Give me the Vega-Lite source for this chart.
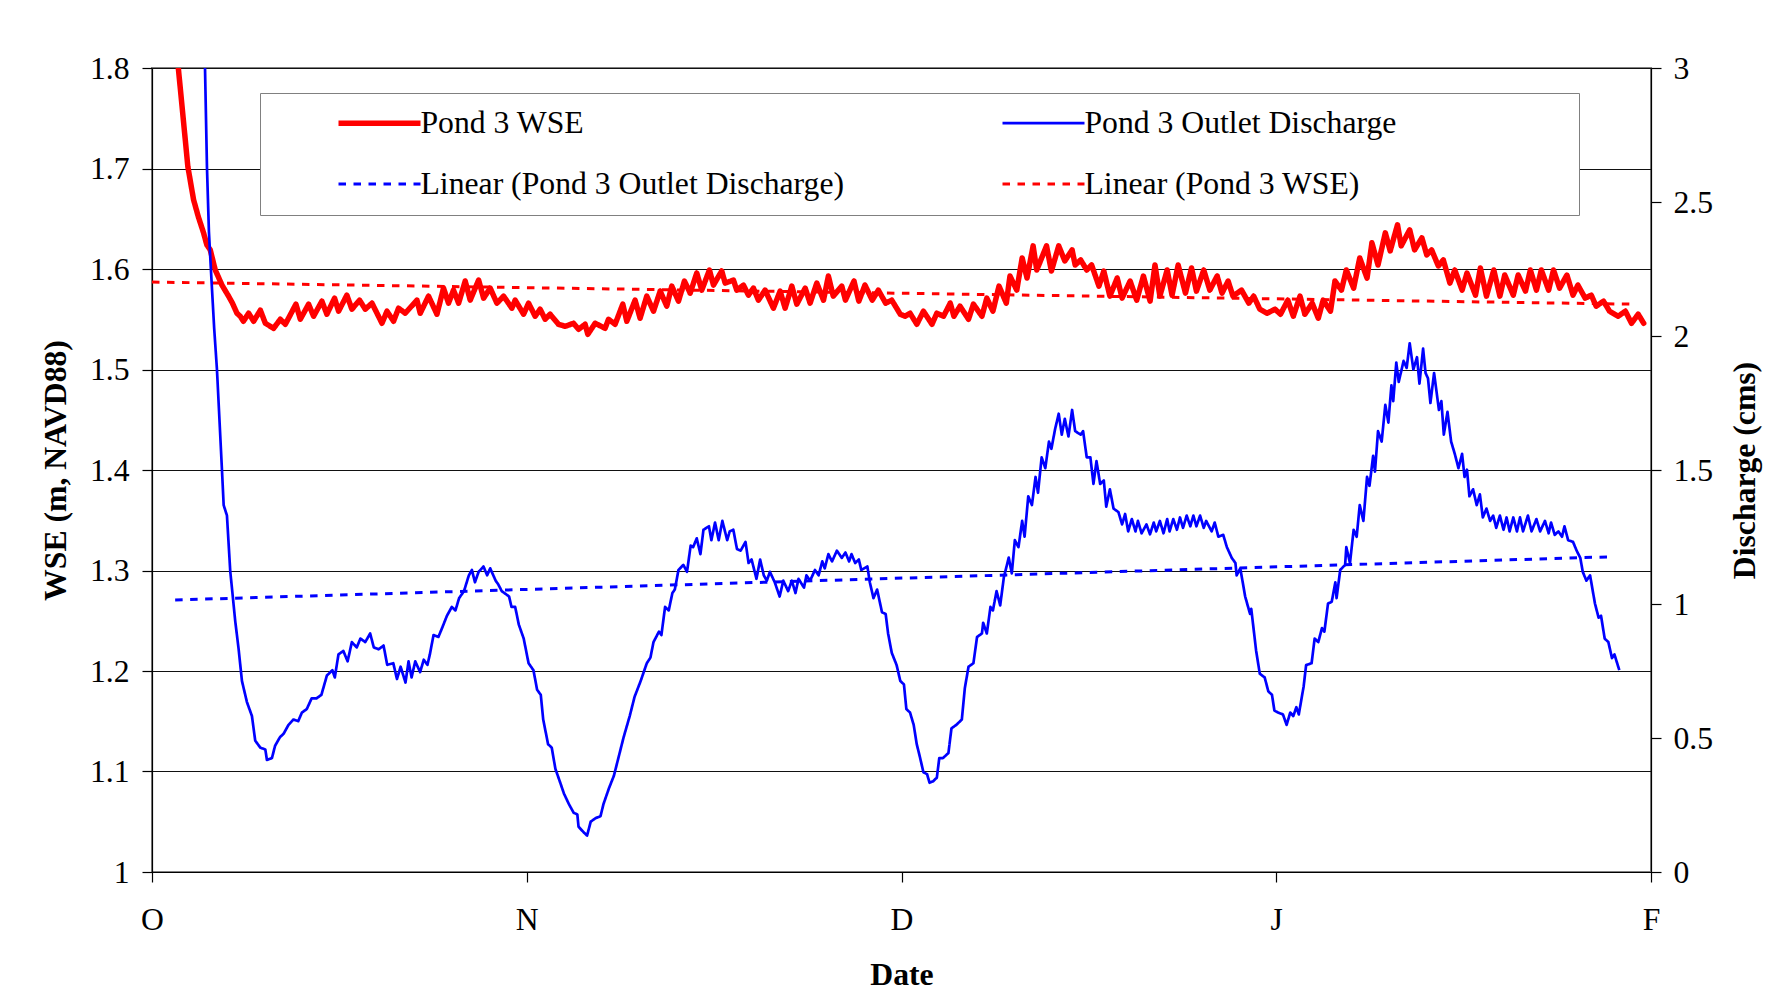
{
"$schema": "https://vega.github.io/schema/vega-lite/v6.json",
"width": 1499, "height": 804,
"autosize": {"type": "none"},
"padding": {"left": 152, "top": 68, "right": 137, "bottom": 136},
"background": "white",
"datasets": {
"wse": [
{"day":1.5,"wse":1.89},{"day":2.16,"wse":1.8},{"day":2.6,"wse":1.745},{"day":2.94,"wse":1.702},{"day":3.41,"wse":1.669},{"day":3.8,"wse":1.652},{"day":4.23,"wse":1.636},{"day":4.5,"wse":1.624},{"day":4.78,"wse":1.619},{"day":5.19,"wse":1.599},{"day":5.45,"wse":1.592},{"day":5.74,"wse":1.584},{"day":6.28,"wse":1.573},{"day":6.6,"wse":1.566},{"day":6.97,"wse":1.556},{"day":7.24,"wse":1.553},{"day":7.5,"wse":1.548},{"day":7.93,"wse":1.556},{"day":8.34,"wse":1.548},{"day":8.89,"wse":1.559},{"day":9.3,"wse":1.546},{"day":9.98,"wse":1.541},{"day":10.53,"wse":1.55},{"day":10.94,"wse":1.545},{"day":11.81,"wse":1.565},{"day":12.17,"wse":1.55},{"day":12.85,"wse":1.565},{"day":13.26,"wse":1.553},{"day":13.94,"wse":1.568},{"day":14.35,"wse":1.555},{"day":14.98,"wse":1.571},{"day":15.31,"wse":1.558},{"day":15.99,"wse":1.574},{"day":16.4,"wse":1.56},{"day":17.03,"wse":1.569},{"day":17.5,"wse":1.56},{"day":18.05,"wse":1.566},{"day":18.87,"wse":1.546},{"day":19.28,"wse":1.558},{"day":19.82,"wse":1.548},{"day":20.23,"wse":1.561},{"day":20.78,"wse":1.556},{"day":21.74,"wse":1.569},{"day":22.01,"wse":1.556},{"day":22.69,"wse":1.573},{"day":23.38,"wse":1.555},{"day":23.92,"wse":1.581},{"day":24.33,"wse":1.566},{"day":24.74,"wse":1.579},{"day":25.16,"wse":1.566},{"day":25.7,"wse":1.588},{"day":26.11,"wse":1.569},{"day":26.8,"wse":1.589},{"day":27.21,"wse":1.571},{"day":27.75,"wse":1.581},{"day":28.3,"wse":1.566},{"day":28.85,"wse":1.573},{"day":29.53,"wse":1.561},{"day":29.8,"wse":1.569},{"day":30.49,"wse":1.555},{"day":30.9,"wse":1.566},{"day":31.44,"wse":1.553},{"day":31.85,"wse":1.56},{"day":32.26,"wse":1.55},{"day":32.67,"wse":1.555},{"day":33.35,"wse":1.545},{"day":33.9,"wse":1.543},{"day":34.59,"wse":1.546},{"day":35.0,"wse":1.54},{"day":35.54,"wse":1.545},{"day":35.76,"wse":1.535},{"day":36.36,"wse":1.546},{"day":37.18,"wse":1.541},{"day":37.46,"wse":1.55},{"day":38.0,"wse":1.545},{"day":38.63,"wse":1.565},{"day":38.96,"wse":1.548},{"day":39.64,"wse":1.569},{"day":40.05,"wse":1.551},{"day":40.6,"wse":1.573},{"day":41.15,"wse":1.558},{"day":41.7,"wse":1.578},{"day":42.24,"wse":1.563},{"day":42.65,"wse":1.583},{"day":43.2,"wse":1.568},{"day":43.69,"wse":1.588},{"day":44.16,"wse":1.576},{"day":44.7,"wse":1.596},{"day":45.11,"wse":1.579},{"day":45.74,"wse":1.599},{"day":46.07,"wse":1.584},{"day":46.75,"wse":1.598},{"day":47.03,"wse":1.586},{"day":47.71,"wse":1.589},{"day":47.98,"wse":1.579},{"day":48.53,"wse":1.584},{"day":48.94,"wse":1.574},{"day":49.35,"wse":1.581},{"day":49.76,"wse":1.569},{"day":50.31,"wse":1.579},{"day":50.99,"wse":1.561},{"day":51.54,"wse":1.578},{"day":51.95,"wse":1.561},{"day":52.5,"wse":1.583},{"day":52.91,"wse":1.565},{"day":53.6,"wse":1.581},{"day":54.0,"wse":1.566},{"day":54.55,"wse":1.586},{"day":55.1,"wse":1.569},{"day":55.5,"wse":1.593},{"day":55.9,"wse":1.573},{"day":56.6,"wse":1.583},{"day":56.9,"wse":1.569},{"day":57.6,"wse":1.588},{"day":58.0,"wse":1.568},{"day":58.5,"wse":1.584},{"day":59.1,"wse":1.569},{"day":59.6,"wse":1.579},{"day":60.2,"wse":1.566},{"day":60.7,"wse":1.569},{"day":61.4,"wse":1.555},{"day":61.8,"wse":1.553},{"day":62.2,"wse":1.556},{"day":62.76,"wse":1.545},{"day":63.3,"wse":1.558},{"day":64.0,"wse":1.545},{"day":64.4,"wse":1.556},{"day":64.95,"wse":1.553},{"day":65.5,"wse":1.566},{"day":65.8,"wse":1.553},{"day":66.3,"wse":1.563},{"day":67.0,"wse":1.55},{"day":67.4,"wse":1.565},{"day":68.1,"wse":1.553},{"day":68.5,"wse":1.571},{"day":69.0,"wse":1.558},{"day":69.5,"wse":1.583},{"day":70.1,"wse":1.566},{"day":70.4,"wse":1.593},{"day":70.96,"wse":1.579},{"day":71.4,"wse":1.611},{"day":71.8,"wse":1.591},{"day":72.3,"wse":1.623},{"day":72.6,"wse":1.599},{"day":73.4,"wse":1.623},{"day":73.8,"wse":1.598},{"day":74.4,"wse":1.623},{"day":74.9,"wse":1.608},{"day":75.5,"wse":1.619},{"day":75.75,"wse":1.604},{"day":76.2,"wse":1.609},{"day":76.7,"wse":1.599},{"day":77.1,"wse":1.604},{"day":77.7,"wse":1.583},{"day":78.1,"wse":1.598},{"day":78.6,"wse":1.573},{"day":79.2,"wse":1.591},{"day":79.6,"wse":1.571},{"day":80.26,"wse":1.588},{"day":80.8,"wse":1.569},{"day":81.35,"wse":1.593},{"day":81.9,"wse":1.568},{"day":82.3,"wse":1.604},{"day":82.7,"wse":1.573},{"day":83.3,"wse":1.599},{"day":83.7,"wse":1.574},{"day":84.2,"wse":1.604},{"day":84.8,"wse":1.576},{"day":85.3,"wse":1.601},{"day":85.7,"wse":1.578},{"day":86.3,"wse":1.599},{"day":86.8,"wse":1.579},{"day":87.4,"wse":1.593},{"day":87.8,"wse":1.576},{"day":88.3,"wse":1.588},{"day":88.7,"wse":1.573},{"day":89.4,"wse":1.579},{"day":90.0,"wse":1.566},{"day":90.4,"wse":1.573},{"day":90.9,"wse":1.56},{"day":91.5,"wse":1.556},{"day":92.15,"wse":1.56},{"day":92.6,"wse":1.555},{"day":93.2,"wse":1.569},{"day":93.65,"wse":1.553},{"day":94.2,"wse":1.573},{"day":94.6,"wse":1.555},{"day":95.2,"wse":1.566},{"day":95.7,"wse":1.551},{"day":96.1,"wse":1.569},{"day":96.7,"wse":1.558},{"day":97.07,"wse":1.588},{"day":97.6,"wse":1.579},{"day":98.0,"wse":1.599},{"day":98.6,"wse":1.581},{"day":99.1,"wse":1.611},{"day":99.7,"wse":1.591},{"day":100.1,"wse":1.626},{"day":100.6,"wse":1.604},{"day":101.2,"wse":1.636},{"day":101.6,"wse":1.618},{"day":102.2,"wse":1.644},{"day":102.5,"wse":1.623},{"day":103.2,"wse":1.639},{"day":103.6,"wse":1.619},{"day":104.2,"wse":1.631},{"day":104.6,"wse":1.614},{"day":105.0,"wse":1.619},{"day":105.55,"wse":1.603},{"day":105.96,"wse":1.609},{"day":106.5,"wse":1.586},{"day":106.9,"wse":1.599},{"day":107.5,"wse":1.579},{"day":107.9,"wse":1.596},{"day":108.6,"wse":1.574},{"day":109.0,"wse":1.601},{"day":109.5,"wse":1.573},{"day":110.1,"wse":1.599},{"day":110.6,"wse":1.573},{"day":111.0,"wse":1.594},{"day":111.7,"wse":1.574},{"day":112.1,"wse":1.594},{"day":112.7,"wse":1.578},{"day":113.1,"wse":1.599},{"day":113.6,"wse":1.579},{"day":114.0,"wse":1.599},{"day":114.6,"wse":1.579},{"day":115.0,"wse":1.599},{"day":115.5,"wse":1.581},{"day":116.1,"wse":1.594},{"day":116.6,"wse":1.574},{"day":117.0,"wse":1.584},{"day":117.6,"wse":1.571},{"day":118.1,"wse":1.574},{"day":118.5,"wse":1.563},{"day":119.1,"wse":1.568},{"day":119.6,"wse":1.558},{"day":120.3,"wse":1.553},{"day":120.9,"wse":1.558},{"day":121.4,"wse":1.546},{"day":121.95,"wse":1.555},{"day":122.4,"wse":1.546}
],
"wseTrend": [{"day":0,"wseTrend":1.587},{"day":121.5,"wseTrend":1.565}],
"q": [
{"day":4.0,"q":3.35},{"day":4.35,"q":3.0},{"day":4.51,"q":2.63},{"day":4.67,"q":2.39},{"day":4.82,"q":2.26},{"day":5.1,"q":2.03},{"day":5.33,"q":1.875},{"day":5.74,"q":1.501},{"day":5.88,"q":1.369},{"day":6.15,"q":1.33},{"day":6.42,"q":1.123},{"day":6.83,"q":0.936},{"day":7.11,"q":0.831},{"day":7.38,"q":0.713},{"day":7.79,"q":0.634},{"day":8.2,"q":0.582},{"day":8.47,"q":0.49},{"day":8.89,"q":0.464},{"day":9.3,"q":0.457},{"day":9.43,"q":0.418},{"day":9.84,"q":0.425},{"day":10.1,"q":0.471},{"day":10.5,"q":0.503},{"day":10.8,"q":0.516},{"day":11.2,"q":0.549},{"day":11.6,"q":0.569},{"day":12.0,"q":0.563},{"day":12.3,"q":0.595},{"day":12.7,"q":0.608},{"day":13.1,"q":0.648},{"day":13.5,"q":0.648},{"day":13.9,"q":0.661},{"day":14.35,"q":0.733},{"day":14.8,"q":0.753},{"day":15.0,"q":0.726},{"day":15.3,"q":0.812},{"day":15.7,"q":0.825},{"day":16.05,"q":0.786},{"day":16.4,"q":0.858},{"day":16.8,"q":0.838},{"day":17.1,"q":0.871},{"day":17.5,"q":0.858},{"day":17.9,"q":0.89},{"day":18.2,"q":0.838},{"day":18.6,"q":0.831},{"day":19.0,"q":0.845},{"day":19.3,"q":0.773},{"day":19.8,"q":0.779},{"day":20.1,"q":0.72},{"day":20.4,"q":0.766},{"day":20.8,"q":0.707},{"day":21.05,"q":0.786},{"day":21.3,"q":0.726},{"day":21.6,"q":0.786},{"day":22.0,"q":0.746},{"day":22.3,"q":0.792},{"day":22.6,"q":0.773},{"day":22.8,"q":0.812},{"day":23.1,"q":0.884},{"day":23.5,"q":0.877},{"day":23.8,"q":0.91},{"day":24.2,"q":0.956},{"day":24.6,"q":0.989},{"day":24.9,"q":0.976},{"day":25.2,"q":1.022},{"day":25.6,"q":1.048},{"day":26.0,"q":1.107},{"day":26.25,"q":1.127},{"day":26.5,"q":1.081},{"day":26.8,"q":1.12},{"day":27.2,"q":1.14},{"day":27.5,"q":1.107},{"day":27.75,"q":1.133},{"day":28.2,"q":1.087},{"day":28.4,"q":1.074},{"day":28.7,"q":1.048},{"day":29.3,"q":1.028},{"day":29.5,"q":0.989},{"day":29.8,"q":0.989},{"day":30.1,"q":0.923},{"day":30.5,"q":0.871},{"day":30.9,"q":0.779},{"day":31.3,"q":0.753},{"day":31.6,"q":0.68},{"day":31.9,"q":0.661},{"day":32.1,"q":0.569},{"day":32.5,"q":0.477},{"day":32.8,"q":0.464},{"day":33.1,"q":0.385},{"day":33.5,"q":0.333},{"day":33.8,"q":0.293},{"day":34.2,"q":0.254},{"day":34.6,"q":0.221},{"day":34.9,"q":0.215},{"day":35.0,"q":0.169},{"day":35.4,"q":0.149},{"day":35.7,"q":0.136},{"day":36.0,"q":0.188},{"day":36.4,"q":0.201},{"day":36.8,"q":0.208},{"day":37.05,"q":0.254},{"day":37.5,"q":0.313},{"day":37.9,"q":0.359},{"day":38.3,"q":0.431},{"day":38.7,"q":0.503},{"day":39.2,"q":0.582},{"day":39.6,"q":0.654},{"day":40.1,"q":0.713},{"day":40.6,"q":0.779},{"day":40.9,"q":0.8},{"day":41.15,"q":0.858},{"day":41.6,"q":0.897},{"day":41.8,"q":0.884},{"day":42.1,"q":0.989},{"day":42.4,"q":0.976},{"day":42.7,"q":1.041},{"day":42.9,"q":1.054},{"day":43.2,"q":1.127},{"day":43.6,"q":1.146},{"day":43.9,"q":1.12},{"day":44.2,"q":1.218},{"day":44.4,"q":1.212},{"day":44.7,"q":1.245},{"day":45.0,"q":1.186},{"day":45.25,"q":1.277},{"day":45.7,"q":1.29},{"day":45.9,"q":1.238},{"day":46.2,"q":1.304},{"day":46.5,"q":1.238},{"day":46.8,"q":1.31},{"day":47.2,"q":1.238},{"day":47.4,"q":1.271},{"day":47.7,"q":1.277},{"day":48.0,"q":1.205},{"day":48.3,"q":1.199},{"day":48.7,"q":1.232},{"day":48.95,"q":1.153},{"day":49.2,"q":1.166},{"day":49.6,"q":1.094},{"day":49.9,"q":1.166},{"day":50.2,"q":1.107},{"day":50.45,"q":1.087},{"day":50.7,"q":1.12},{"day":51.1,"q":1.081},{"day":51.5,"q":1.028},{"day":51.8,"q":1.087},{"day":52.2,"q":1.048},{"day":52.5,"q":1.087},{"day":52.8,"q":1.041},{"day":53.05,"q":1.094},{"day":53.5,"q":1.061},{"day":53.7,"q":1.107},{"day":54.0,"q":1.087},{"day":54.4,"q":1.127},{"day":54.7,"q":1.107},{"day":55.0,"q":1.159},{"day":55.2,"q":1.133},{"day":55.5,"q":1.186},{"day":55.8,"q":1.159},{"day":56.2,"q":1.199},{"day":56.6,"q":1.172},{"day":56.9,"q":1.192},{"day":57.2,"q":1.159},{"day":57.4,"q":1.186},{"day":57.7,"q":1.153},{"day":58.0,"q":1.166},{"day":58.2,"q":1.127},{"day":58.7,"q":1.14},{"day":58.9,"q":1.081},{"day":59.2,"q":1.022},{"day":59.5,"q":1.054},{"day":59.9,"q":0.969},{"day":60.2,"q":0.963},{"day":60.4,"q":0.89},{"day":60.7,"q":0.818},{"day":61.1,"q":0.772},{"day":61.4,"q":0.713},{"day":61.7,"q":0.7},{"day":61.9,"q":0.608},{"day":62.2,"q":0.595},{"day":62.5,"q":0.549},{"day":62.75,"q":0.477},{"day":63.0,"q":0.431},{"day":63.3,"q":0.372},{"day":63.6,"q":0.365},{"day":63.8,"q":0.333},{"day":64.1,"q":0.339},{"day":64.4,"q":0.352},{"day":64.6,"q":0.425},{"day":64.9,"q":0.425},{"day":65.35,"q":0.444},{"day":65.6,"q":0.536},{"day":66.0,"q":0.549},{"day":66.45,"q":0.569},{"day":66.7,"q":0.687},{"day":67.0,"q":0.766},{"day":67.4,"q":0.779},{"day":67.7,"q":0.877},{"day":68.1,"q":0.89},{"day":68.2,"q":0.93},{"day":68.5,"q":0.89},{"day":68.8,"q":0.989},{"day":69.0,"q":0.976},{"day":69.3,"q":1.048},{"day":69.6,"q":0.995},{"day":69.9,"q":1.1},{"day":70.3,"q":1.173},{"day":70.55,"q":1.114},{"day":70.8,"q":1.238},{"day":71.1,"q":1.212},{"day":71.4,"q":1.31},{"day":71.6,"q":1.251},{"day":71.9,"q":1.402},{"day":72.2,"q":1.369},{"day":72.5,"q":1.474},{"day":72.7,"q":1.415},{"day":73.0,"q":1.547},{"day":73.3,"q":1.507},{"day":73.6,"q":1.606},{"day":73.8,"q":1.579},{"day":74.1,"q":1.652},{"day":74.4,"q":1.71},{"day":74.65,"q":1.632},{"day":74.9,"q":1.691},{"day":75.2,"q":1.625},{"day":75.5,"q":1.724},{"day":75.75,"q":1.645},{"day":76.2,"q":1.632},{"day":76.4,"q":1.645},{"day":76.7,"q":1.547},{"day":77.0,"q":1.547},{"day":77.25,"q":1.448},{"day":77.5,"q":1.533},{"day":77.8,"q":1.448},{"day":78.1,"q":1.461},{"day":78.3,"q":1.363},{"day":78.6,"q":1.428},{"day":78.9,"q":1.356},{"day":79.3,"q":1.343},{"day":79.6,"q":1.297},{"day":79.85,"q":1.336},{"day":80.1,"q":1.271},{"day":80.4,"q":1.317},{"day":80.7,"q":1.271},{"day":80.9,"q":1.31},{"day":81.2,"q":1.264},{"day":81.6,"q":1.297},{"day":81.89,"q":1.26},{"day":82.2,"q":1.304},{"day":82.4,"q":1.271},{"day":82.7,"q":1.31},{"day":83.0,"q":1.264},{"day":83.3,"q":1.317},{"day":83.5,"q":1.271},{"day":83.8,"q":1.317},{"day":84.1,"q":1.277},{"day":84.35,"q":1.323},{"day":84.6,"q":1.284},{"day":84.9,"q":1.33},{"day":85.2,"q":1.29},{"day":85.45,"q":1.33},{"day":85.7,"q":1.29},{"day":86.0,"q":1.33},{"day":86.3,"q":1.284},{"day":86.5,"q":1.31},{"day":86.95,"q":1.271},{"day":87.2,"q":1.304},{"day":87.5,"q":1.251},{"day":87.9,"q":1.258},{"day":88.2,"q":1.212},{"day":88.6,"q":1.172},{"day":88.9,"q":1.153},{"day":89.0,"q":1.107},{"day":89.3,"q":1.133},{"day":89.7,"q":1.028},{"day":90.1,"q":0.963},{"day":90.2,"q":0.982},{"day":90.6,"q":0.825},{"day":90.9,"q":0.74},{"day":91.3,"q":0.726},{"day":91.6,"q":0.674},{"day":91.9,"q":0.661},{"day":92.1,"q":0.602},{"day":92.4,"q":0.595},{"day":92.8,"q":0.588},{"day":93.1,"q":0.549},{"day":93.4,"q":0.595},{"day":93.65,"q":0.582},{"day":93.9,"q":0.615},{"day":94.1,"q":0.588},{"day":94.5,"q":0.693},{"day":94.7,"q":0.772},{"day":95.15,"q":0.779},{"day":95.4,"q":0.871},{"day":95.7,"q":0.858},{"day":96.0,"q":0.91},{"day":96.2,"q":0.897},{"day":96.5,"q":1.002},{"day":96.8,"q":1.008},{"day":97.1,"q":1.081},{"day":97.2,"q":1.022},{"day":97.5,"q":1.127},{"day":97.9,"q":1.146},{"day":98.0,"q":1.212},{"day":98.3,"q":1.153},{"day":98.6,"q":1.277},{"day":98.85,"q":1.251},{"day":99.1,"q":1.369},{"day":99.4,"q":1.31},{"day":99.7,"q":1.474},{"day":99.9,"q":1.441},{"day":100.2,"q":1.553},{"day":100.35,"q":1.494},{"day":100.6,"q":1.645},{"day":100.9,"q":1.606},{"day":101.2,"q":1.743},{"day":101.45,"q":1.677},{"day":101.7,"q":1.816},{"day":101.85,"q":1.757},{"day":102.1,"q":1.901},{"day":102.3,"q":1.829},{"day":102.7,"q":1.907},{"day":102.95,"q":1.881},{"day":103.2,"q":1.973},{"day":103.5,"q":1.875},{"day":103.8,"q":1.921},{"day":104.0,"q":1.822},{"day":104.3,"q":1.953},{"day":104.5,"q":1.862},{"day":104.7,"q":1.842},{"day":104.9,"q":1.75},{"day":105.2,"q":1.862},{"day":105.6,"q":1.724},{"day":105.8,"q":1.757},{"day":106.0,"q":1.632},{"day":106.3,"q":1.717},{"day":106.6,"q":1.606},{"day":106.9,"q":1.56},{"day":107.2,"q":1.507},{"day":107.5,"q":1.56},{"day":107.7,"q":1.474},{"day":107.9,"q":1.501},{"day":108.1,"q":1.402},{"day":108.4,"q":1.428},{"day":108.7,"q":1.369},{"day":108.96,"q":1.409},{"day":109.2,"q":1.323},{"day":109.5,"q":1.356},{"day":109.8,"q":1.31},{"day":110.05,"q":1.33},{"day":110.3,"q":1.284},{"day":110.6,"q":1.33},{"day":110.9,"q":1.277},{"day":111.15,"q":1.323},{"day":111.4,"q":1.271},{"day":111.7,"q":1.323},{"day":112.0,"q":1.271},{"day":112.25,"q":1.323},{"day":112.5,"q":1.271},{"day":112.9,"q":1.33},{"day":113.2,"q":1.271},{"day":113.6,"q":1.317},{"day":113.9,"q":1.271},{"day":114.3,"q":1.31},{"day":114.6,"q":1.264},{"day":114.8,"q":1.304},{"day":115.1,"q":1.258},{"day":115.4,"q":1.271},{"day":115.7,"q":1.251},{"day":115.9,"q":1.29},{"day":116.2,"q":1.238},{"day":116.6,"q":1.232},{"day":116.9,"q":1.199},{"day":117.2,"q":1.172},{"day":117.4,"q":1.12},{"day":117.7,"q":1.087},{"day":118.0,"q":1.107},{"day":118.4,"q":1.002},{"day":118.7,"q":0.949},{"day":118.9,"q":0.956},{"day":119.2,"q":0.871},{"day":119.5,"q":0.858},{"day":119.8,"q":0.798},{"day":120.0,"q":0.812},{"day":120.4,"q":0.753}
],
"qTrend": [{"day":1.9,"qTrend":1.015},{"day":119.6,"qTrend":1.176}]
},
"encoding": {
  "x": {"field": "day", "type": "quantitative",
        "scale": {"domain": [0, 123], "nice": false, "zero": false},
        "axis": {"values": [0, 30.75, 61.5, 92.25, 123],
                 "labelExpr": "['O','N','D','J','F'][round(datum.value/30.75)]",
                 "title": "Date", "grid": false, "labelFlush": false, "labelOverlap": false,
                 "labelPadding": 22, "titlePadding": 24}},
  "color": {"field": "series", "type": "nominal",
            "scale": {"domain": ["wse", "q", "qTrend", "wseTrend"], "range": ["#FF0000", "#0000FF", "#0000FF", "#FF0000"]},
            "legend": {"orient": "none", "legendX": 108, "legendY": 25, "columns": 2, "direction": "horizontal",
                       "title": "\u00a0", "titleOrient": "right", "titlePadding": 169, "titleFontSize": 10,
                       "symbolType": "stroke", "symbolSize": 6724, "clipHeight": 32,
                       "symbolOffset": 61.5, "labelOffset": -3, "columnPadding": 93, "rowPadding": 28,
                       "padding": 14, "strokeColor": "#808080", "fillColor": "white",
                       "labelFont": "Liberation Serif", "labelFontSize": 31.7, "labelColor": "black", "labelLimit": 1000,
                       "labelExpr": "datum.label == 'wse' ? 'Pond 3 WSE' : datum.label == 'q' ? 'Pond 3 Outlet Discharge' : datum.label == 'qTrend' ? 'Linear (Pond 3 Outlet Discharge)' : 'Linear (Pond 3 WSE)'"}},
  "strokeDash": {"field": "series", "type": "nominal",
                 "scale": {"domain": ["wse", "q", "qTrend", "wseTrend"], "range": [[1, 0], [1, 0], [7.5, 7.5], [7.5, 7.5]]}},
  "strokeWidth": {"field": "series", "type": "nominal",
                  "scale": {"type": "ordinal", "domain": ["wse", "q", "qTrend", "wseTrend"], "range": [5.5, 2.7, 3, 3]}}
},
"layer": [
  {"encoding": {"y": {"field": "value", "type": "quantitative",
       "scale": {"domain": [1, 1.8], "nice": false, "zero": false},
       "axis": {"orient": "left", "values": [1, 1.1, 1.2, 1.3, 1.4, 1.5, 1.6, 1.7, 1.8], "format": ".1~f",
                "title": "WSE (m, NAVD88)", "grid": true, "labelPadding": 13, "titlePadding": 17}}},
   "layer": [
     {"data": {"name": "wse"}, "transform": [{"fold": ["wse"], "as": ["series", "value"]}],
      "mark": {"type": "line", "clip": true, "strokeJoin": "round", "strokeCap": "round"}},
     {"data": {"name": "wseTrend"}, "transform": [{"fold": ["wseTrend"], "as": ["series", "value"]}],
      "mark": {"type": "line", "clip": true}}
   ]},
  {"encoding": {"y": {"field": "value", "type": "quantitative",
       "scale": {"domain": [0, 3], "nice": false, "zero": false},
       "axis": {"orient": "right", "values": [0, 0.5, 1, 1.5, 2, 2.5, 3], "format": "~g",
                "title": "Discharge (cms)", "grid": false, "labelPadding": 12, "titlePadding": 17,
                "titleAngle": 270, "titleBaseline": "top"}}},
   "layer": [
     {"data": {"name": "q"}, "transform": [{"fold": ["q"], "as": ["series", "value"]}],
      "mark": {"type": "line", "clip": true, "strokeJoin": "round"}},
     {"data": {"name": "qTrend"}, "transform": [{"fold": ["qTrend"], "as": ["series", "value"]}],
      "mark": {"type": "line", "clip": true}}
   ]}
],
"resolve": {"scale": {"y": "independent"}},
"config": {
  "font": "Liberation Serif",
  "view": {"stroke": "#808080", "strokeWidth": 2},
  "axis": {"labelFont": "Liberation Serif", "labelFontSize": 31.7, "labelColor": "black",
           "titleFont": "Liberation Serif", "titleFontSize": 31.7, "titleFontWeight": "bold", "titleColor": "black",
           "domainColor": "black", "domainWidth": 1.2, "tickColor": "black", "tickSize": 10, "tickWidth": 1.2,
           "gridColor": "#111111", "gridOpacity": 1, "gridWidth": 1.2}
}
}
